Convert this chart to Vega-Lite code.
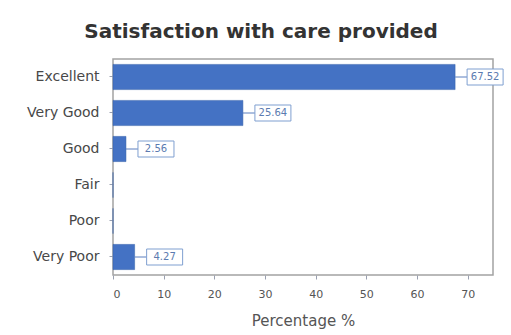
{
  "$schema": "https://vega.github.io/schema/vega-lite/v6.json",
  "width": 380,
  "height": 216,
  "autosize": {"type": "none"},
  "padding": {"left": 113, "top": 59, "right": 18, "bottom": 60},
  "background": "white",
  "title": {
    "text": "Satisfaction with care provided",
    "font": "DejaVu Sans",
    "fontSize": 20,
    "fontWeight": "bold",
    "color": "#333333",
    "anchor": "middle",
    "dx": -42,
    "offset": 17
  },
  "config": {
    "view": {"stroke": "#a3a3a3", "strokeWidth": 1.5},
    "axis": {"grid": false, "domain": false, "tickColor": "#9aa0b0", "labelFont": "DejaVu Sans", "titleFont": "DejaVu Sans"}
  },
  "data": {
    "values": [
      {"rating": "Excellent", "pct": 67.52, "label": "67.52"},
      {"rating": "Very Good", "pct": 25.64, "label": "25.64"},
      {"rating": "Good", "pct": 2.56, "label": "2.56"},
      {"rating": "Fair", "pct": 0, "label": ""},
      {"rating": "Poor", "pct": 0, "label": ""},
      {"rating": "Very Poor", "pct": 4.27, "label": "4.27"}
    ]
  },
  "encoding": {
    "y": {
      "field": "rating",
      "type": "nominal",
      "sort": null,
      "scale": {"paddingInner": 0.3, "paddingOuter": 0.15},
      "axis": {"title": null, "labelFontSize": 14, "labelColor": "#484848", "labelPadding": 10, "tickSize": 4}
    }
  },
  "layer": [
    {
      "mark": {"type": "bar", "color": "#4472c4", "stroke": "#3560a8", "strokeWidth": 0.5},
      "encoding": {
        "x": {
          "field": "pct",
          "type": "quantitative",
          "scale": {"domain": [0, 75], "nice": false},
          "axis": {
            "values": [0, 10, 20, 30, 40, 50, 60, 70],
            "title": "Percentage %",
            "titleFontSize": 15,
            "titleFontWeight": "normal",
            "titleColor": "#555555",
            "titlePadding": 14,
            "labelFontSize": 11,
            "labelColor": "#555555",
            "labelPadding": 9,
            "tickSize": 4
          }
        }
      }
    },
    {
      "transform": [{"filter": "datum.pct > 0"}],
      "mark": {"type": "rule", "color": "#5a7fbf", "strokeWidth": 1, "x2Offset": 12},
      "encoding": {
        "x": {"field": "pct", "type": "quantitative"},
        "x2": {"field": "pct"}
      }
    },
    {
      "transform": [{"filter": "datum.pct > 0"}],
      "mark": {"type": "bar", "fill": "white", "stroke": "#7f9fd0", "strokeWidth": 1, "height": 16, "xOffset": 12, "x2Offset": 48},
      "encoding": {
        "x": {"field": "pct", "type": "quantitative"},
        "x2": {"field": "pct"}
      }
    },
    {
      "transform": [{"filter": "datum.pct > 0"}],
      "mark": {"type": "text", "align": "center", "baseline": "middle", "dx": 30, "font": "DejaVu Sans", "fontSize": 10, "color": "#5b7bb0"},
      "encoding": {
        "x": {"field": "pct", "type": "quantitative"},
        "text": {"field": "label"}
      }
    }
  ]
}
